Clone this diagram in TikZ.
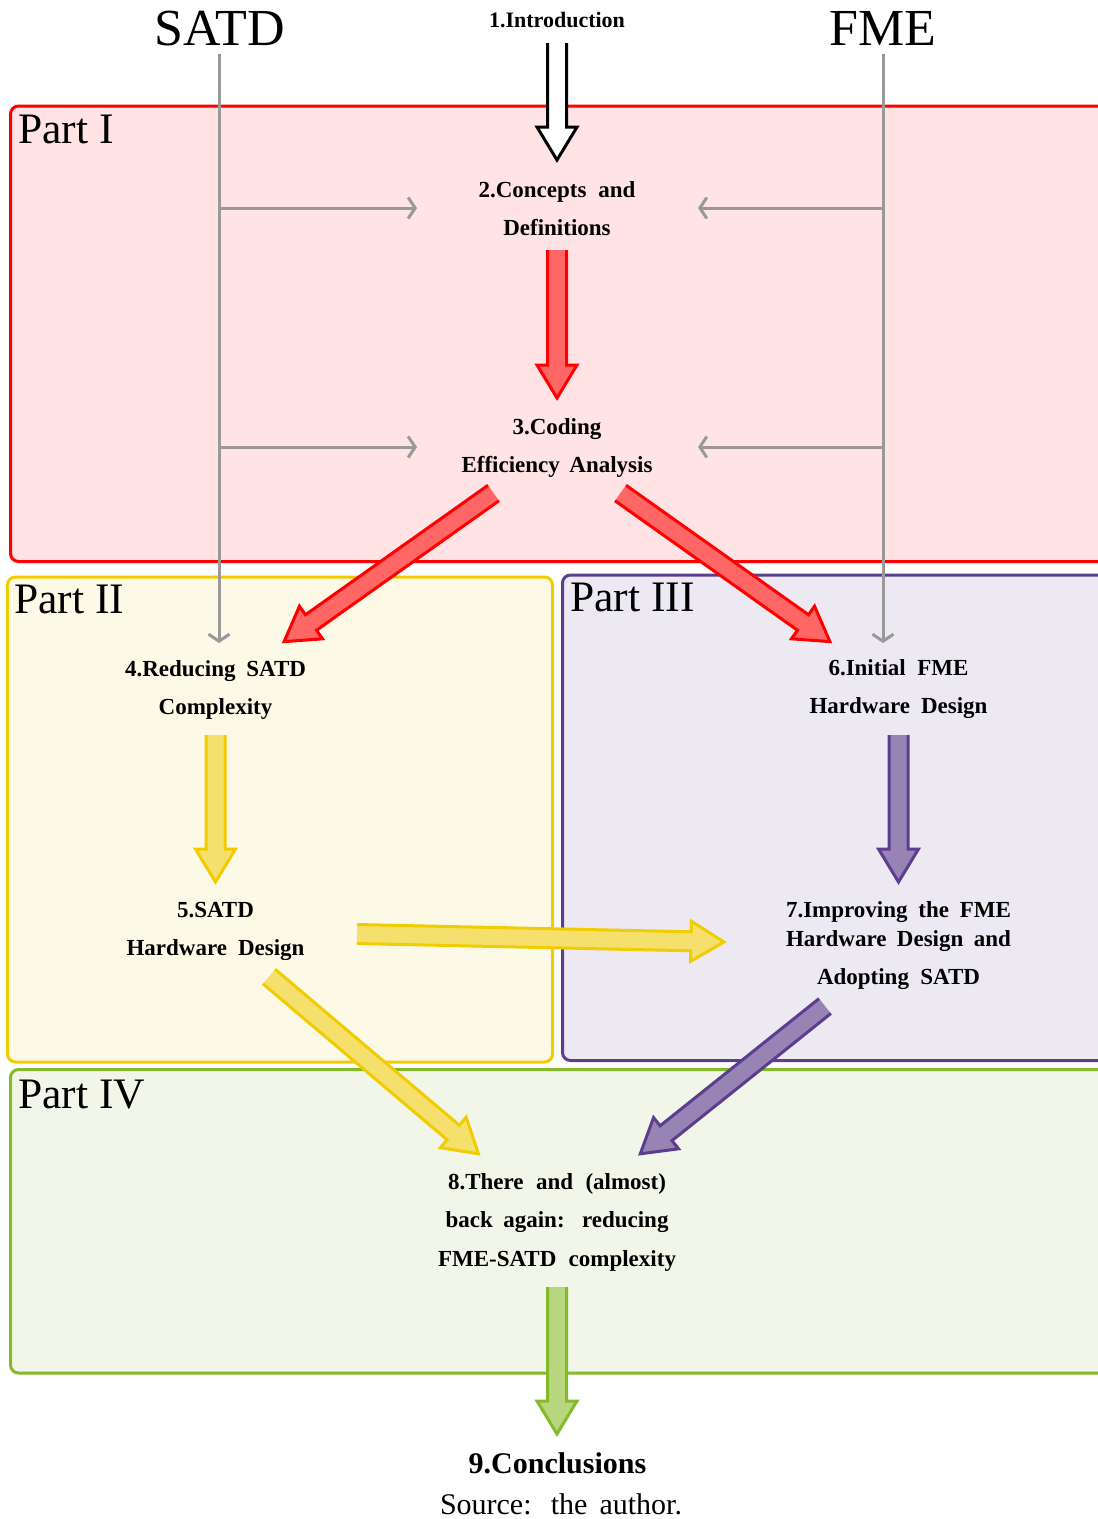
\documentclass[tikz,border=0pt]{standalone}
\usepackage{fontspec}
\setmainfont{Liberation Serif}
\usetikzlibrary{calc,arrows.meta}

\definecolor{partIline}{HTML}{FF0000}
\definecolor{partIfill}{HTML}{FFE3E5}
\definecolor{partIIline}{HTML}{F0CC00}
\definecolor{partIIfill}{HTML}{FDF9E7}
\definecolor{partIIIline}{HTML}{5C3D8F}
\definecolor{partIIIfill}{HTML}{EDE9F2}
\definecolor{partIVline}{HTML}{84BA29}
\definecolor{partIVfill}{HTML}{F2F6E9}
\definecolor{redarrow}{HTML}{FF6666}
\definecolor{yellowarrow}{HTML}{F5E06E}
\definecolor{purplearrow}{HTML}{9784B5}
\definecolor{greenarrow}{HTML}{B8D67E}
\definecolor{guide}{HTML}{999999}

% centred lines, first baseline is the box baseline
\newcommand\stagetext[1]{\vtop{\baselineskip=38.5pt\halign{\hfil##\hfil\cr#1\crcr}}}
% a line whose interword spaces stretch to a given width
\newcommand\jline[2]{\makebox[#1][s]{#2}}

% block arrow: start, tip, fill colour, outline colour
\newcommand\blockarrow[4]{%
  \coordinate (ba-s) at ($(#2)!33pt!(#1)$);
  \fill[#3] ($(#1)!9.5pt!90:(#2)$) -- ($(ba-s)!9.5pt!90:(#2)$) -- ($(ba-s)!20pt!90:(#2)$)
     -- (#2) -- ($(ba-s)!20pt!-90:(#2)$) -- ($(ba-s)!9.5pt!-90:(#2)$) -- ($(#1)!9.5pt!-90:(#2)$) -- cycle;
  \draw[#4, line width=3pt, line join=miter, miter limit=10]
     ($(#1)!9.5pt!90:(#2)$) -- ($(ba-s)!9.5pt!90:(#2)$) -- ($(ba-s)!20pt!90:(#2)$)
     -- (#2) -- ($(ba-s)!20pt!-90:(#2)$) -- ($(ba-s)!9.5pt!-90:(#2)$) -- ($(#1)!9.5pt!-90:(#2)$);
}

\begin{document}
\begin{tikzpicture}[x=1pt, y=-1pt,
  partbox/.style={line width=3pt, rounded corners=8pt},
  partlabel/.style={anchor=base west, inner sep=0pt, font=\fontsize{43.5}{50}\selectfont},
  title/.style={anchor=base, inner sep=0pt, font=\fontsize{52}{60}\selectfont},
  stage/.style={anchor=base, inner sep=0pt, font=\bfseries\fontsize{23}{38.5}\selectfont},
  guidearrow/.style={draw=guide, line width=3pt, -{Straight Barb[length=7pt,width=21pt,line width=3pt]}},
]
\useasboundingbox (0,0) rectangle (1098,1519);
\clip (0,0) rectangle (1098,1519);

% the four parts
\draw[partbox, draw=partIline, fill=partIfill] (10.5,106) rectangle (1120,561.5);
\draw[partbox, draw=partIIline, fill=partIIfill] (7.5,577) rectangle (552.5,1062);
\draw[partbox, draw=partIIIline, fill=partIIIfill] (562.5,575) rectangle (1120,1060.5);
\draw[partbox, draw=partIVline, fill=partIVfill] (10.5,1069.5) rectangle (1120,1373);

\node[partlabel] (p1) at (18,143) {Part I};
\node[partlabel] (p2) at (14,613) {Part II};
\node[partlabel] (p3) at (570,611) {Part III};
\node[partlabel] (p4) at (18,1108) {Part IV};

% headings
\node[title] (satd) at (220,45) {SATD};
\node[title] (fme) at (883,45) {FME};
\node[anchor=base, inner sep=0pt, font=\bfseries\fontsize{22}{26}\selectfont] (c1) at (557,27.3) {1.Introduction};

% chapters
\node[stage] (c2) at (557,197) {\stagetext{\jline{157pt}{2.Concepts and}\cr Definitions}};
\node[stage] (c3) at (557,434) {\stagetext{3.Coding\cr\jline{191pt}{Efficiency Analysis}}};
\node[stage] (c4) at (215.5,676) {\stagetext{\jline{181pt}{4.Reducing SATD}\cr Complexity}};
\node[stage] (c5) at (215.5,917) {\stagetext{5.SATD\cr\jline{178pt}{Hardware Design}}};
\node[stage] (c6) at (898.5,675) {\stagetext{\jline{140pt}{6.Initial FME}\cr\jline{178pt}{Hardware Design}}};
\node[stage] (c7) at (898.5,917.3) {\stagetext{\jline{225pt}{7.Improving the FME}\cr\noalign{\vskip-9.5pt}\jline{225pt}{Hardware Design and}\cr\jline{163pt}{Adopting SATD}}};
\node[stage] (c8) at (557,1189.3) {\stagetext{\jline{218pt}{8.There and (almost)}\cr\jline{223pt}{back again: reducing}\cr\jline{238pt}{FME-SATD complexity}}};
\node[anchor=base, inner sep=0pt, font=\bfseries\fontsize{30}{36}\selectfont] (c9) at (557.5,1473) {9.Conclusions};
\node[anchor=base, inner sep=0pt, font=\fontsize{30}{36}\selectfont] (src) at (561,1514) {\jline{242pt}{Source: the author.}};

% guide lines from the two topics
\coordinate (satd-top) at (219,54);
\coordinate (satd-end) at (219,643);
\coordinate (satd-a) at (219,208);
\coordinate (satd-b) at (219,447);
\coordinate (fme-top) at (883,54);
\coordinate (fme-end) at (883,643);
\coordinate (fme-a) at (883,208);
\coordinate (fme-b) at (883,447);
\coordinate (c2-w) at (417,208);
\coordinate (c2-e) at (698,208);
\coordinate (c3-w) at (417,447);
\coordinate (c3-e) at (698,447);

\draw[guidearrow] (satd-top) -- (satd-end);
\draw[guidearrow] (fme-top) -- (fme-end);
\draw[guidearrow] (satd-a) -- (c2-w);
\draw[guidearrow] (satd-b) -- (c3-w);
\draw[guidearrow] (fme-a) -- (c2-e);
\draw[guidearrow] (fme-b) -- (c3-e);

% flow between chapters
\coordinate (c1-out) at (557,43);   \coordinate (c2-in) at (557,160);
\coordinate (c2-out) at (557,250);  \coordinate (c3-in) at (557,398);
\coordinate (c3-outl) at (493.5,493); \coordinate (c4-in) at (284.1,641.6);
\coordinate (c3-outr) at (620.5,493); \coordinate (c6-in) at (829.9,641.6);
\coordinate (c4-out) at (215.5,735); \coordinate (c5-in) at (215.5,882);
\coordinate (c5-outr) at (357,934);  \coordinate (c7-in) at (724,942);
\coordinate (c5-outd) at (269,976.5); \coordinate (c8-inl) at (478.4,1153.8);
\coordinate (c6-out) at (898.5,735); \coordinate (c7-top) at (898.5,882);
\coordinate (c7-out) at (825,1006);  \coordinate (c8-inr) at (640.3,1153.8);
\coordinate (c8-out) at (557,1287);  \coordinate (c9-in) at (557,1434);

\blockarrow{c1-out}{c2-in}{white}{black}
\blockarrow{c2-out}{c3-in}{redarrow}{partIline}
\blockarrow{c3-outl}{c4-in}{redarrow}{partIline}
\blockarrow{c3-outr}{c6-in}{redarrow}{partIline}
\blockarrow{c4-out}{c5-in}{yellowarrow}{partIIline}
\blockarrow{c5-outr}{c7-in}{yellowarrow}{partIIline}
\blockarrow{c5-outd}{c8-inl}{yellowarrow}{partIIline}
\blockarrow{c6-out}{c7-top}{purplearrow}{partIIIline}
\blockarrow{c7-out}{c8-inr}{purplearrow}{partIIIline}
\blockarrow{c8-out}{c9-in}{greenarrow}{partIVline}
\end{tikzpicture}
\end{document}
